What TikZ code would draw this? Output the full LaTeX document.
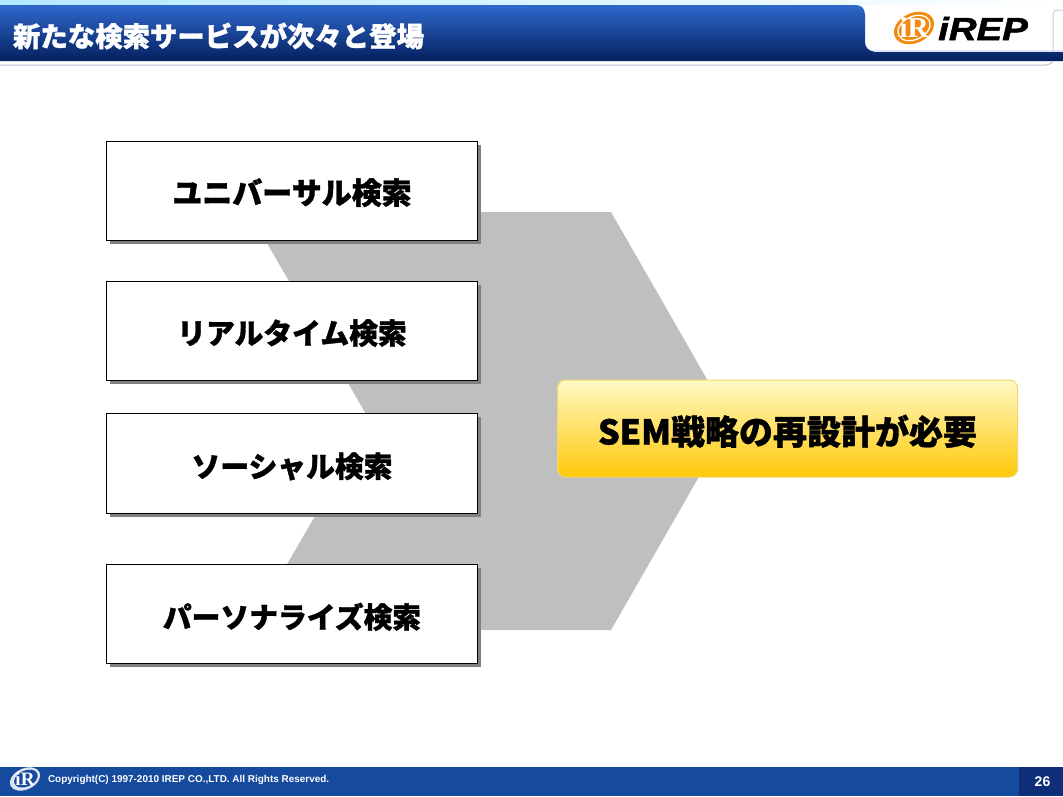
\documentclass[tikz,border=0pt]{standalone}
\usepackage{fontspec}
\setmainfont{Noto Sans CJK JP}
\newfontfamily\jpheavy[BoldFeatures={FakeBold=1.2}]{Noto Sans CJK JP}
\newfontfamily\latinfont{Liberation Sans}
\newfontfamily\markfont{Liberation Serif}
\newfontfamily\namefont[BoldItalicFeatures={FakeBold=1.5}]{Liberation Sans}
\usepackage{tikz}
\usetikzlibrary{positioning,shadows}

\definecolor{barlight}{HTML}{2F68CC}
\definecolor{bardark}{HTML}{04205E}
\definecolor{footblue}{HTML}{164A9E}
\definecolor{footdark}{HTML}{0E2F78}
\definecolor{logoorange}{HTML}{F28A10}
\definecolor{chevgray}{HTML}{BFBFBF}
\definecolor{resulttop}{HTML}{FFF9C4}
\definecolor{resultbottom}{HTML}{FFC808}
\definecolor{resultline}{HTML}{F0D870}

\begin{document}
\begin{tikzpicture}[x=1pt,y=-1pt,node distance=41pt,outer sep=0pt]
  \tikzstyle{search box}=[draw=black,line width=1pt,fill=white,minimum width=371pt,minimum height=99pt,
    font=\jpheavy\fontsize{28.8}{30}\bfseries,text height=29pt,text depth=2pt,
    drop shadow={shadow xshift=3.5pt,shadow yshift=-3.5pt,fill=black!50,opacity=1}]
  \tikzstyle{result box}=[draw=resultline,line width=1pt,rounded corners=8pt,minimum width=460pt,minimum height=97pt,
    top color=resulttop,bottom color=resultbottom,font=\jpheavy\fontsize{34}{34}\bfseries,text height=34pt,text depth=2pt]
  \tikzstyle{logo text}=[inner sep=0pt]

  \useasboundingbox (0,0) rectangle (1063,796);
  \fill[white] (0,0) rectangle (1063,796);

  % header
  \shade[left color=blue!30!cyan!30,right color=white] (0,0) rectangle (1063,6);
  \fill[white] (866,5) rectangle (1063,52);
  \fill[blue!12!white] (870,49.5) rectangle (1063,52);
  \shade[top color=barlight,bottom color=bardark]
    (0,5) -- (855,5) .. controls (862,5) and (865,9) .. (865,15) -- (865,42)
    .. controls (865,47) and (868,51) .. (875,52) -- (1063,52) -- (1063,61) -- (0,61) -- cycle;
  \draw[blue!25!gray!40,line width=1pt,rounded corners=4pt] (0,65) -- (1050,65) -- (1053,61);
  \draw[blue!25!gray!30,line width=1pt,rounded corners=4pt] (1053,50) -- (1053,10) -- (1063,10);
  \node[white,font=\jpheavy\fontsize{27.4}{27.4}\bfseries,anchor=west,inner sep=0pt] (title) at (13,36) {新たな検索サービスが次々と登場};

  % logo
  \fill[logoorange,rotate around={25:(914,28)}] (914,28) ellipse (21 and 15);
  \draw[white,line width=1.3pt,rotate around={25:(914,28)}] (914,28) ellipse (17 and 11.5);
  \node[logo text,white,font=\markfont\bfseries\fontsize{29}{29}\selectfont] (logo_mark) at (914,27) {iR};
  \node[logo text,font=\namefont\bfseries\itshape\fontsize{32}{32}\selectfont,xscale=1.2,transform shape] (logo_name) at (983,28.5) {iREP};

  % chevron behind the boxes
  \fill[chevgray] (249,212) -- (611,212) -- (731,421) -- (611,630) -- (249,630) -- (370,421) -- cycle;

  \node[search box,font=\jpheavy\fontsize{30}{30}\bfseries] (box_1) at (292,190.5) {ユニバーサル検索};
  \node[search box] (box_2) [below=of box_1] {リアルタイム検索};
  \node[search box,minimum height=100.5pt,text height=30pt] (box_3) [below=33pt of box_2] {ソーシャル検索};
  \node[search box,text height=31pt] (box_4) [below=50.5pt of box_3] {パーソナライズ検索};

  \node[result box] (result) at (787.5,428.5) {SEM戦略の再設計が必要};

  % footer
  \fill[footblue] (0,767) rectangle (1063,796);
  \fill[footdark] (1019,767) rectangle (1063,796);
  \fill[white!85!footblue,rotate around={25:(25,779)}] (25,779) ellipse (16 and 10.5);
  \fill[footblue,rotate around={25:(25,779)}] (26,779) ellipse (12.5 and 8);
  \node[logo text,white,font=\markfont\bfseries\fontsize{19}{19}\selectfont] (foot_mark) at (25,778.5) {iR};
  \node[white,font=\latinfont\bfseries\fontsize{9.95}{9.95}\selectfont,anchor=west,inner sep=0pt] (copyright) at (48,780) {Copyright(C) 1997-2010 IREP CO.,LTD. All Rights Reserved.};
  \node[white,font=\latinfont\bfseries\fontsize{14}{14}\selectfont,inner sep=0pt] (page) at (1042.5,781.5) {26};
\end{tikzpicture}
\end{document}
